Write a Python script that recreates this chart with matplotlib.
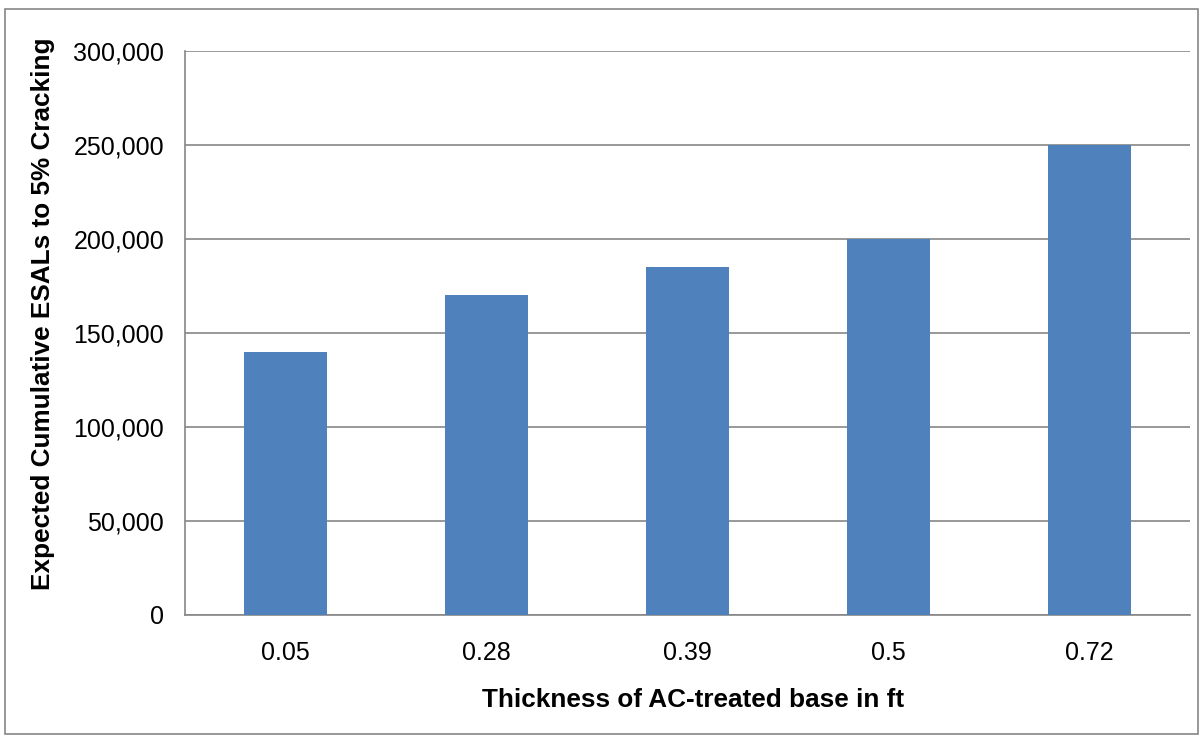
import matplotlib
matplotlib.use("Agg")
import matplotlib.pyplot as plt
from matplotlib.patches import Rectangle
from matplotlib.ticker import FuncFormatter

# data
thickness = ["0.05", "0.28", "0.39", "0.5", "0.72"]
esals = [140000, 170000, 185000, 200000, 250000]

plt.rcParams['font.family'] = ['Liberation Sans', 'DejaVu Sans']

fig = plt.figure(figsize=(12.04, 7.39), dpi=100)
ax = fig.add_axes([185 / 1204, 1 - 615 / 739, (1190 - 185) / 1204, (615 - 51) / 739])

grid_col = "#868686"
ax.bar(range(len(thickness)), esals, width=0.41, color="#4f81bd", zorder=3)

ax.set_xlim(-0.5, len(thickness) - 0.5)
ax.set_ylim(0, 300000)
ax.set_yticks(range(0, 300001, 50000))
ax.yaxis.set_major_formatter(FuncFormatter(lambda v, p: f"{int(v):,}"))
ax.set_xticks(range(len(thickness)))
ax.set_xticklabels(thickness)

ax.grid(axis="y", color=grid_col, linewidth=1.2, zorder=0)
ax.tick_params(axis="both", length=0, labelsize=18, colors="black")
ax.tick_params(axis="x", pad=19)
ax.tick_params(axis="y", pad=15)
for s in ["top", "right"]:
    ax.spines[s].set_visible(False)
for s in ["left", "bottom"]:
    ax.spines[s].set_color(grid_col)
    ax.spines[s].set_linewidth(1.2)

ax.set_xlabel("Thickness of AC-treated base in ft", fontsize=18.8, fontweight="bold")
ax.set_ylabel("Expected Cumulative ESALs to 5% Cracking", fontsize=18.8, fontweight="bold")
ax.xaxis.set_label_coords(0.5055, -0.129)
ax.yaxis.set_label_coords(-0.129, 0.534)

# outer chart border
fig.patches.append(Rectangle((5 / 1204, 1 - 734 / 739), 1193 / 1204, 725 / 739,
                             transform=fig.transFigure, fill=False,
                             edgecolor=grid_col, linewidth=1.2))

fig.savefig("out.png", dpi=100)
